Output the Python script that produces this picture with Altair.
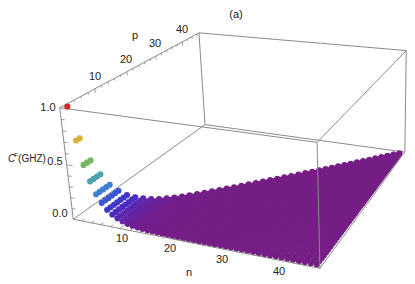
import numpy as np
import pandas as pd
import altair as alt

# ---- values ----
N_VALUES = list(range(1, 47))
# height of each n row (the value does not change with p)
CF_VALUES = [1.0, 0.71, 0.50, 0.36, 0.25, 0.18, 0.125, 0.09, 0.065, 0.045,
             0.03, 0.022, 0.016, 0.011, 0.008, 0.006, 0.004, 0.003, 0.002, 0.0015,
             0.001, 0.001] + [0.0] * 24
COLOR_STOPS = [0.0, 0.03, 0.065, 0.09, 0.125, 0.18, 0.25, 0.36, 0.50, 0.71, 1.0]
COLOR_VALUES = ["#751e85", "#6a229c", "#5a28b0", "#4b2cc0", "#4038c8", "#3c56d2",
                "#3f80d3", "#4fa3ad", "#7ab85f", "#d9b23a", "#d8262c"]
N_RANGE = [0.1, 46.9]
P_RANGE = [0.1, 46.9]
Z_RANGE = [0.0, 1.0]
TICK_LABELS = ["10", "20", "30", "40", "10", "20", "30", "40", "0.0", "0.5", "1.0", "(a)", "p", "n"]
LABEL_X = [122, 170, 222, 279, 95, 126, 155, 182, 60, 55, 48, 236, 135, 189]
LABEL_Y = [239, 249, 260, 272, 77, 60, 44, 30, 214, 162, 108, 15, 36, 273]

# ---- perspective camera, calibrated on the eight corners of the box ----
CORNERS = {
    (0, 0, 0): (73, 218), (0, 0, 1): (60, 107),
    (0, 1, 0): (205, 127), (0, 1, 1): (199, 32),
    (1, 0, 0): (320, 269), (1, 0, 1): (317, 144),
    (1, 1, 0): (412, 150), (1, 1, 1): (413, 51),
}
rows = []
for (a, b, c), (u, v) in CORNERS.items():
    rows.append([a, b, c, 1, 0, 0, 0, 0, -u * a, -u * b, -u * c, -u])
    rows.append([0, 0, 0, 0, a, b, c, 1, -v * a, -v * b, -v * c, -v])
CAM = np.linalg.svd(np.array(rows, float))[2][-1].reshape(3, 4)
# the page's right margin starts at 407: the far right of the view is eased in to stay on it
EASE_FROM, EASE_SRC, EASE_DST = 320.0, 413.0, 406.0


def project(n, p, z):
    a = (np.asarray(n, float) - N_RANGE[0]) / (N_RANGE[1] - N_RANGE[0])
    b = (np.asarray(p, float) - P_RANGE[0]) / (P_RANGE[1] - P_RANGE[0])
    c = (np.asarray(z, float) - Z_RANGE[0]) / (Z_RANGE[1] - Z_RANGE[0])
    h = CAM @ np.vstack([a, b, c, np.ones_like(a)])
    x, y = h[0] / h[2], h[1] / h[2]
    k = (EASE_DST - EASE_FROM) / (EASE_SRC - EASE_FROM)
    x = np.where(x > EASE_FROM, EASE_FROM + (x - EASE_FROM) * k, x)
    return x, y


# ---- points ----
ns, ps, zs = [], [], []
for n, cf in zip(N_VALUES, CF_VALUES):
    for p in range(1, n + 1):
        ns.append(n); ps.append(p); zs.append(cf)
pts = pd.DataFrame({"n": ns, "p": ps, "cf": zs})
pts["x"], pts["y"] = project(pts.n, pts.p, pts.cf)
pts = pts.assign(depth=pts.n - pts.p).sort_values("depth").reset_index(drop=True)
pts["order"] = pts.index

W, H = 399, 272
X = alt.X("x:Q", axis=None, scale=alt.Scale(domain=[8, 8 + W], range=[0, W]))
Y = alt.Y("y:Q", axis=None, scale=alt.Scale(domain=[8, 8 + H], range=[0, H]))


def seg(a, b):
    x1, y1 = project([a[0]], [a[1]], [a[2]])
    x2, y2 = project([b[0]], [b[1]], [b[2]])
    return dict(x=x1[0], y=y1[0], x2=x2[0], y2=y2[0])


n0, n1 = N_RANGE
p0, p1 = P_RANGE
z0, z1 = Z_RANGE
back = [((n0, p0, z0), (n0, p0, z1)), ((n0, p0, z1), (n0, p1, z1)),
        ((n0, p0, z1), (n1, p0, z1)), ((n0, p1, z1), (n1, p1, z1)),
        ((n0, p1, z1), (n0, p1, z0)), ((n0, p1, z0), (n0, p0, z0)),
        ((n0, p1, z0), (n1, p1, z0)), ((n1, p0, z1), (n1, p1, z1)),
        ((n1, p1, z1), (n1, p1, z0))]
front = [((n0, p0, z0), (n1, p0, z0)), ((n1, p0, z0), (n1, p1, z0)),
         ((n1, p0, z0), (n1, p0, z1))]

ticks = []
for v in range(2, 47, 2):
    L = 1.3 if v % 10 == 0 else 0.8
    ticks.append(seg((v, p0, z0), (v, p0 + L, z0)))
    ticks.append(seg((n0, v, z1), (n0, v, z1 - 0.027 * L)))
for v in np.arange(0.1, 1.0, 0.1):
    L = 1.3 if abs(v - 0.5) < 0.01 else 0.8
    ticks.append(seg((n0, p0, v), (n0 + L, p0, v)))


def rules(items, color="#8a8a8a", width=1.0):
    return alt.Chart(pd.DataFrame(items)).mark_rule(color=color, strokeWidth=width).encode(
        x=X, y=Y, x2="x2:Q", y2="y2:Q")


back_layer = rules([seg(a, b) for a, b in back])
front_layer = rules([seg(a, b) for a, b in front])
tick_layer = rules(ticks, "#777777", 0.7)

points = alt.Chart(pts).mark_circle(size=38, opacity=1).encode(
    x=X, y=Y,
    order=alt.Order("order:Q"),
    color=alt.Color("cf:Q", legend=None,
                    scale=alt.Scale(domain=COLOR_STOPS, range=COLOR_VALUES)),
)

FONT = "Liberation Sans"
TEXT_STYLE = dict(font=FONT, color="#222222", align="center", baseline="middle")
text = alt.Chart(pd.DataFrame({"x": LABEL_X, "y": LABEL_Y, "t": TICK_LABELS})).mark_text(
    fontSize=11, **TEXT_STYLE).encode(x=X, y=Y, text="t:N")
g_text = alt.Chart(pd.DataFrame({"x": [32], "y": [159], "t": ["(GHZ)"]})).mark_text(
    fontSize=10, **TEXT_STYLE).encode(x=X, y=Y, text="t:N")
c_text = alt.Chart(pd.DataFrame({"x": [11.5], "y": [159], "t": ["C"]})).mark_text(
    fontSize=10, fontStyle="italic", **TEXT_STYLE).encode(x=X, y=Y, text="t:N")
f_text = alt.Chart(pd.DataFrame({"x": [16], "y": [155], "t": ["F"]})).mark_text(
    fontSize=6, **TEXT_STYLE).encode(x=X, y=Y, text="t:N")

chart = alt.layer(back_layer, tick_layer, points, front_layer, text, g_text, c_text, f_text).properties(
    width=W, height=H, padding=0, autosize=alt.AutoSizeParams(type="none")
).configure_view(stroke=None)

chart.save("out.html", embed_options={"renderer": "svg", "actions": False})
